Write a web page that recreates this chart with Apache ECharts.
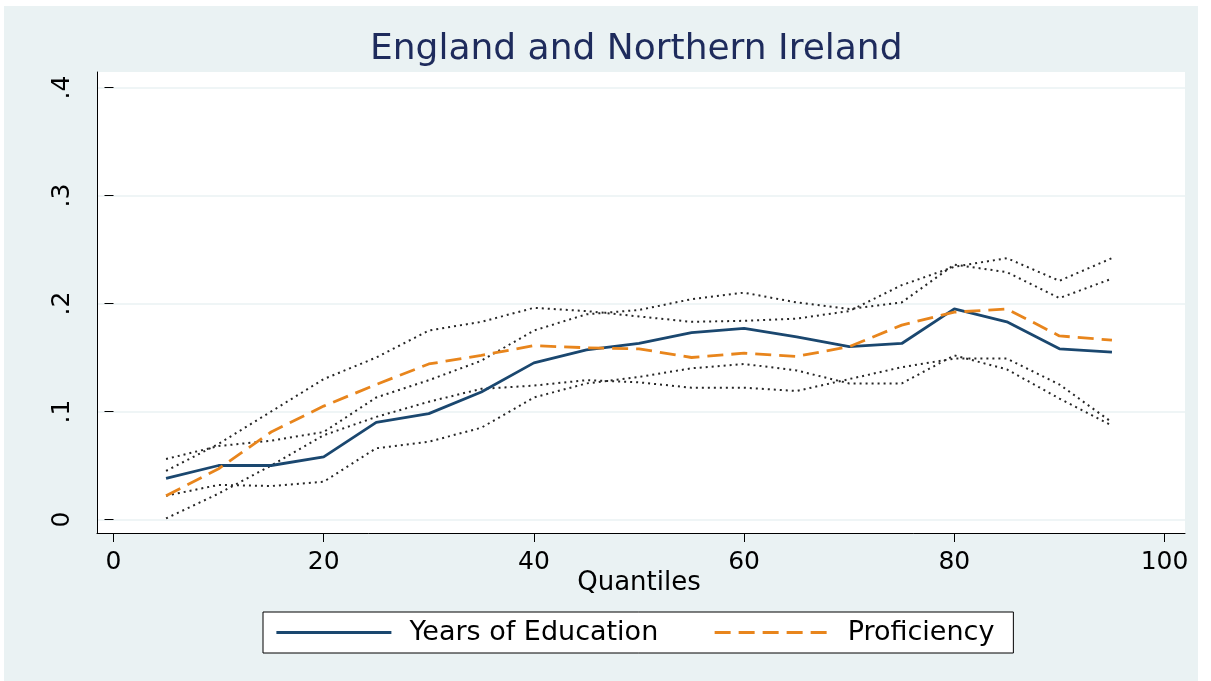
<!DOCTYPE html>
<html>
<head>
<meta charset="utf-8">
<title>England and Northern Ireland</title>
<script src="https://cdn.jsdelivr.net/npm/echarts@6/dist/echarts.min.js"></script>
<style>
	html, body { margin: 0; padding: 0; background: #fff; }
	#bg { position: absolute; left: 4px; top: 6px; width: 1194px; height: 675px; background: #eaf2f3; }
	#main { position: absolute; left: 0; top: 0; width: 1211px; height: 681px; }
</style>
</head>
<body>
<div id="bg"></div>
<div id="main"></div>
<script>
var quantiles = [5, 10, 15, 20, 25, 30, 35, 40, 45, 50, 55, 60, 65, 70, 75, 80, 85, 90, 95];

var yearsEdu    = [0.038, 0.050, 0.050, 0.058, 0.090, 0.098, 0.118, 0.145, 0.157, 0.163, 0.173, 0.177, 0.169, 0.160, 0.163, 0.195, 0.183, 0.158, 0.155];
var yearsUpper  = [0.056, 0.068, 0.073, 0.081, 0.113, 0.129, 0.147, 0.175, 0.190, 0.194, 0.204, 0.210, 0.201, 0.195, 0.201, 0.236, 0.229, 0.205, 0.223];
var yearsLower  = [0.022, 0.032, 0.031, 0.035, 0.066, 0.072, 0.085, 0.113, 0.126, 0.132, 0.140, 0.144, 0.138, 0.126, 0.126, 0.152, 0.139, 0.112, 0.087];

var proficiency = [0.022, 0.047, 0.081, 0.105, 0.125, 0.144, 0.152, 0.161, 0.159, 0.158, 0.150, 0.154, 0.151, 0.160, 0.180, 0.192, 0.195, 0.170, 0.166];
var profUpper   = [0.045, 0.070, 0.100, 0.130, 0.150, 0.175, 0.183, 0.196, 0.193, 0.188, 0.183, 0.184, 0.186, 0.193, 0.217, 0.234, 0.242, 0.221, 0.242];
var profLower   = [0.001, 0.024, 0.050, 0.078, 0.095, 0.109, 0.121, 0.124, 0.129, 0.127, 0.122, 0.122, 0.119, 0.130, 0.141, 0.149, 0.149, 0.125, 0.090];

var yTickLabels = ['0', '.1', '.2', '.3', '.4'];

var font = 'DejaVu Sans';

function pairs(ys) {
	var out = [];
	for (var i = 0; i < quantiles.length; i++) {
		out.push([quantiles[i], ys[i]]);
	}
	return out;
}

// dotted confidence bands
function band(name, ys) {
	return {
		name: name,
		type: 'line',
		xAxisIndex: 1,
		yAxisIndex: 1,
		data: pairs(ys),
		symbol: 'none',
		silent: true,
		z: 1,
		lineStyle: { color: '#262626', width: 2, type: [2, 4] }
	};
}

var myChart = echarts.init(document.getElementById('main'));

var option = {
	backgroundColor: 'transparent',
	animation: false,
	title: {
		text: 'England and Northern Ireland',
		left: 370,
		top: 32,
		padding: 0,
		textStyle: { fontFamily: font, fontSize: 36, fontWeight: 'normal', color: '#1e2b5c' }
	},
	legend: {
		data: ['Years of Education', 'Proficiency'],
		left: 263,
		top: 612,
		itemWidth: 115,
		itemHeight: 14,
		itemGap: 55,
		padding: [7, 19, 7, 12],
		borderColor: '#000',
		borderWidth: 1,
		borderRadius: 0,
		backgroundColor: '#fff',
		itemStyle: { opacity: 0 },
		lineStyle: { width: 2.8 },
		textStyle: { fontFamily: font, fontSize: 27, color: '#000', padding: [0, 0, 0, 13] }
	},
	grid: [
		{ left: 97, right: 26, top: 72, bottom: 148, show: true, backgroundColor: '#fff', borderWidth: 0 },
		{ left: 97, right: 26, top: 87.5, bottom: 161.5 },
		{ left: 113.5, right: 46.5, top: 72, bottom: 148 }
	],
	xAxis: [
		{
			gridIndex: 0, type: 'value', min: 0, max: 1,
			axisLine: { show: true, onZero: false, lineStyle: { color: '#000', width: 1 } },
			axisTick: { show: false }, axisLabel: { show: false }, splitLine: { show: false }
		},
		{ gridIndex: 1, type: 'value', min: -1.57, max: 101.95, show: false },
		{
			gridIndex: 2, type: 'value', min: 0, max: 100, interval: 20,
			name: 'Quantiles', nameLocation: 'middle', nameGap: 37, nameMoveOverlap: false,
			nameTextStyle: { fontFamily: font, fontSize: 26, color: '#000' },
			axisLine: { show: false },
			axisTick: { show: true, length: 9, lineStyle: { color: '#000' } },
			axisLabel: { fontFamily: font, fontSize: 25, color: '#000', margin: 17 },
			splitLine: { show: false }
		}
	],
	yAxis: [
		{
			gridIndex: 0, type: 'value', min: 0, max: 1,
			axisLine: { show: true, onZero: false, lineStyle: { color: '#000', width: 1 } },
			axisTick: { show: false }, axisLabel: { show: false }, splitLine: { show: false }
		},
		{
			gridIndex: 1, type: 'value', min: 0, max: 0.4, interval: 0.1,
			axisLine: { show: false },
			axisTick: { show: true, length: 9, lineStyle: { color: '#000' } },
			axisLabel: {
				fontFamily: font, fontSize: 25, color: '#000', rotate: 90, margin: 22,
				formatter: function(v) { return yTickLabels[Math.round(v * 10)]; }
			},
			splitLine: { show: true, lineStyle: { color: '#eaf2f3', width: 1.5 } }
		},
		{ gridIndex: 2, type: 'value', min: 0, max: 1, show: false }
	],
	series: [
		band('Years upper', yearsUpper),
		band('Years lower', yearsLower),
		band('Proficiency upper', profUpper),
		band('Proficiency lower', profLower),
		{
			name: 'Years of Education',
			type: 'line',
			xAxisIndex: 1,
			yAxisIndex: 1,
			data: pairs(yearsEdu),
			symbol: 'none',
			z: 3,
			itemStyle: { color: '#1a476f' },
			lineStyle: { color: '#1a476f', width: 2.8 }
		},
		{
			name: 'Proficiency',
			type: 'line',
			xAxisIndex: 1,
			yAxisIndex: 1,
			data: pairs(proficiency),
			symbol: 'none',
			z: 4,
			itemStyle: { color: '#e8851c' },
			lineStyle: { color: '#e8851c', width: 2.8, type: [16, 8] }
		}
	]
};

myChart.setOption(option);
</script>
</body>
</html>
